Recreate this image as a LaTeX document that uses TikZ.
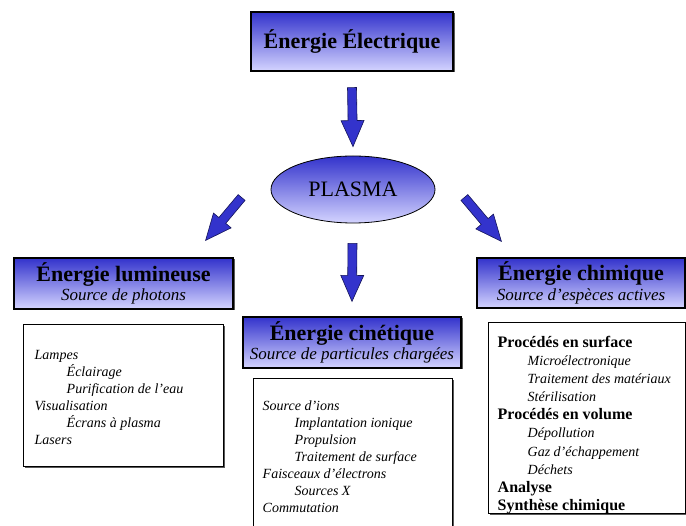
\documentclass[tikz,border=0pt]{standalone}
\usepackage{fontspec}
\setmainfont{Liberation Serif}
\usetikzlibrary{calc,shapes.geometric,shadows}
\definecolor{deepblue}{RGB}{51,51,204}
\definecolor{paleblue}{RGB}{212,212,255}
\definecolor{arrowline}{RGB}{20,20,90}
\newcommand{\blockarrow}[2]{%
  \coordinate (hb) at ($(#2)!26pt!(#1)$);
  \draw[bigarrow] ($(#1)!4.5pt!90:(#2)$) -- ($(hb)!4.5pt!90:(#2)$) -- ($(hb)!11.5pt!90:(#2)$) -- (#2)
    -- ($(hb)!11.5pt!-90:(#2)$) -- ($(hb)!4.5pt!-90:(#2)$) -- ($(#1)!4.5pt!-90:(#2)$) -- cycle;}
\begin{document}
\begin{tikzpicture}[x=1pt, y=-1pt,
  shadowed/.style={drop shadow={shadow xshift=1.5pt, shadow yshift=-1.5pt, fill=black!65, opacity=1}},
  header/.style={draw, line width=1.2pt, top color=deepblue, bottom color=paleblue, align=center,
    inner sep=0pt, shadowed, font=\fontsize{17}{19.5}\selectfont},
  listbox/.style={draw, line width=1pt, fill=white, shadowed},
  listtext/.style={anchor=north west, align=left, inner sep=0pt, font=\fontsize{14}{17}\selectfont\itshape},
  bigarrow/.style={fill=deepblue, draw=arrowline, line width=0.6pt}]
\useasboundingbox (0,0) rectangle (686,526);
\node[header, minimum width=202pt, minimum height=59pt, font=\fontsize{22}{24}\selectfont\bfseries] (elec) at (352,41.5) {Énergie Électrique};
\node[ellipse, draw, line width=0.8pt, top color=deepblue, bottom color=paleblue, minimum width=164pt,
  minimum height=67pt, inner sep=0pt, font=\fontsize{22}{24}\selectfont] (plasma) at (353,189.5) {PLASMA};
\node[header, minimum width=219pt, minimum height=51pt] (lum) at (123.5,283.5)
  {{\fontsize{22}{19.5}\selectfont\bfseries Énergie lumineuse}\\{\itshape Source de photons}};
\node[header, minimum width=218pt, minimum height=51pt] (kin) at (352,342.5)
  {{\fontsize{22}{19.5}\selectfont\bfseries Énergie cinétique}\\{\itshape Source de particules chargées}};
\node[header, minimum width=208pt, minimum height=50pt] (chem) at (581,283)
  {{\fontsize{22}{19.5}\selectfont\bfseries Énergie chimique}\\{\itshape Source d'espèces actives}};
\node[listbox, minimum width=200pt, minimum height=142pt] (lumlist) at (123,396) {};
\node[listbox, minimum width=199pt, minimum height=200pt, anchor=north] (kinlist) at (352.5,378) {};
\node[listbox, minimum width=197pt, minimum height=191pt, anchor=north] (chemlist) at (586.5,322) {};
\node[listtext] (lumtext) at ($(lumlist.north west)+(12,26)$)
  {Lampes\\\hspace*{32pt}Éclairage\\\hspace*{32pt}Purification de l'eau\\Visualisation\\\hspace*{32pt}Écrans à plasma\\Lasers};
\node[listtext] (kintext) at ($(kinlist.north west)+(10,23)$)
  {Source d'ions\\\hspace*{32pt}Implantation ionique\\\hspace*{32pt}Propulsion\\\hspace*{32pt}Traitement de surface\\Faisceaux d'électrons\\\hspace*{32pt}Sources X\\Commutation};
\node[listtext, font=\fontsize{14}{18.1}\selectfont\itshape] (chemtext) at ($(chemlist.north west)+(10,14)$)
  {{\fontsize{16}{18.1}\selectfont\bfseries\upshape Procédés en surface}\\\hspace*{30pt}Microélectronique\\\hspace*{30pt}Traitement des matériaux\\\hspace*{30pt}Stérilisation\\
   {\fontsize{16}{18.1}\selectfont\bfseries\upshape Procédés en volume}\\\hspace*{30pt}Dépollution\\\hspace*{30pt}Gaz d'échappement\\\hspace*{30pt}Déchets\\
   {\fontsize{16}{18.1}\selectfont\bfseries\upshape Analyse}\\{\fontsize{16}{18.1}\selectfont\bfseries\upshape Synthèse chimique}};
\coordinate (a1s) at ($(elec.south)+(0,16)$);
\coordinate (a1e) at ($(plasma.north)+(0,-9)$);
\coordinate (a2s) at ($(plasma.west)+(-29,8)$);
\coordinate (a2e) at ($(lum.north east)+(-28,-17)$);
\coordinate (a3s) at ($(plasma.south)+(-0.5,20)$);
\coordinate (a3e) at ($(kin.north)+(0,-15)$);
\coordinate (a4s) at ($(plasma.east)+(29,8)$);
\coordinate (a4e) at ($(chem.north west)+(25,-16)$);
\blockarrow{a1s}{a1e}
\blockarrow{a2s}{a2e}
\blockarrow{a3s}{a3e}
\blockarrow{a4s}{a4e}
\end{tikzpicture}
\end{document}
